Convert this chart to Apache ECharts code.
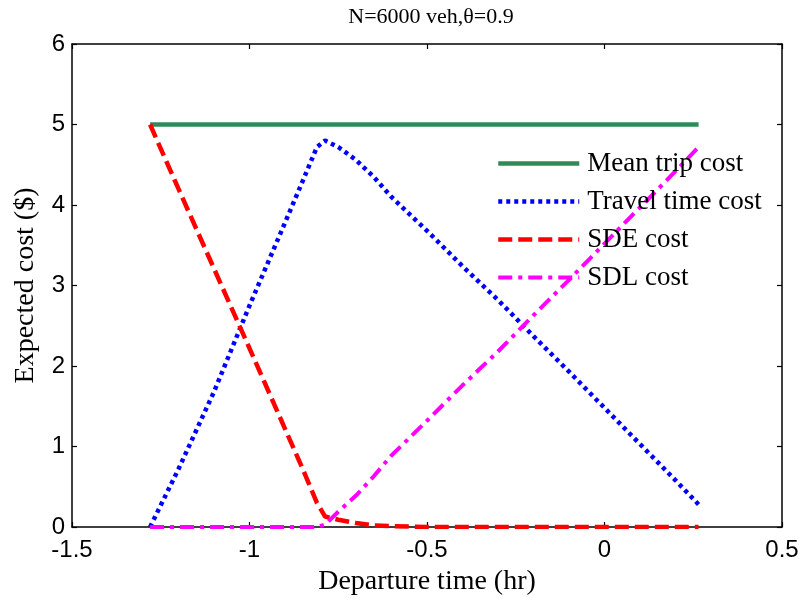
<!DOCTYPE html>
<html>
<head>
<meta charset="utf-8">
<script src="https://cdn.jsdelivr.net/npm/echarts@6/dist/echarts.min.js"></script>
<style>html,body{margin:0;padding:0;background:#fff;}#c{width:805px;height:603px;}</style>
</head>
<body>
<div id="c"></div>
<script>
const departure = [-1.28, -1.2, -1.1, -1.0, -0.9, -0.85, -0.81, -0.787, -0.75, -0.7, -0.65, -0.6, -0.5, -0.4, -0.3, -0.2, -0.1, 0, 0.1, 0.2, 0.265];
const meanTrip = [5, 5, 5, 5, 5, 5, 5, 5, 5, 5, 5, 5, 5, 5, 5, 5, 5, 5, 5, 5, 5];
const travelTime = [0, 0.72, 1.68, 2.75, 3.78, 4.3, 4.72, 4.8, 4.72, 4.56, 4.35, 4.1, 3.68, 3.24, 2.82, 2.37, 1.93, 1.48, 1.03, 0.58, 0.28];
const sde = [5, 4.2, 3.21, 2.22, 1.22, 0.72, 0.3, 0.13, 0.09, 0.05, 0.02, 0.01, 0, 0, 0, 0, 0, 0, 0, 0, 0];
const sdl = [0, 0, 0, 0, 0, 0, 0, 0.03, 0.19, 0.39, 0.63, 0.89, 1.32, 1.76, 2.18, 2.63, 3.07, 3.52, 3.97, 4.42, 4.72];
const seriesNames = ['Mean trip cost', 'Travel time cost', 'SDE cost', 'SDL cost'];
const xTicks = [-1.5, -1, -0.5, 0, 0.5];
const yTicks = [0, 1, 2, 3, 4, 5, 6];

const pairs = arr => departure.map((x, i) => [x, arr[i]]);
const serif = 'Liberation Serif';
const sans = 'Liberation Sans';

const chart = echarts.init(document.getElementById('c'), null, {renderer: 'canvas'});
const axisLine = {show: true, onZero: false, lineStyle: {color: '#000', width: 1.5}};
const tick = {show: true, inside: true, length: 5, lineStyle: {color: '#000', width: 1.2}};
chart.setOption({
  animation: false,
  backgroundColor: '#fff',
  title: {
    text: 'N=6000 veh,\u03b8=0.9',
    left: 426, top: 1, textAlign: 'center',
    textStyle: {fontFamily: serif, fontSize: 22, fontWeight: 'normal', color: '#000'}
  },
  grid: {left: 72, right: 23, top: 44, bottom: 76},
  legend: {
    orient: 'vertical',
    left: 496, top: 150, padding: 0,
    itemWidth: 81, itemHeight: 14, itemGap: 11,
    data: seriesNames,
    itemStyle: {opacity: 0},
    lineStyle: {width: 'inherit', type: 'inherit'},
    textStyle: {fontFamily: serif, fontSize: 27, color: '#000', padding: [0, 0, 0, 3]}
  },
  xAxis: [{
    type: 'value', min: xTicks[0], max: xTicks[xTicks.length - 1], interval: 0.5,
    name: 'Departure time (hr)', nameLocation: 'middle', nameGap: 41,
    nameTextStyle: {fontFamily: serif, fontSize: 28, color: '#000'},
    axisLine: axisLine, axisTick: tick, splitLine: {show: false},
    axisLabel: {fontFamily: sans, fontSize: 24, color: '#000', margin: 11}
  }, {
    type: 'value', position: 'top', min: xTicks[0], max: xTicks[xTicks.length - 1], interval: 0.5,
    axisLine: axisLine, axisTick: tick, splitLine: {show: false}, axisLabel: {show: false}
  }],
  yAxis: [{
    type: 'value', min: yTicks[0], max: yTicks[yTicks.length - 1], interval: 1,
    name: 'Expected cost ($)', nameLocation: 'middle', nameGap: 32, nameRotate: 90,
    nameTextStyle: {fontFamily: serif, fontSize: 28, color: '#000'},
    axisLine: axisLine, axisTick: tick, splitLine: {show: false},
    axisLabel: {fontFamily: sans, fontSize: 24, color: '#000', margin: 7}
  }, {
    type: 'value', position: 'right', min: yTicks[0], max: yTicks[yTicks.length - 1], interval: 1,
    axisLine: axisLine, axisTick: tick, splitLine: {show: false}, axisLabel: {show: false}
  }],
  series: [
    {name: seriesNames[0], type: 'line', data: pairs(meanTrip), symbol: 'none',
     lineStyle: {color: '#2E8B57', width: 4.5}, itemStyle: {color: '#2E8B57'}},
    {name: seriesNames[1], type: 'line', data: pairs(travelTime), symbol: 'none',
     lineStyle: {color: '#0000FF', width: 4.5, type: [4, 4], cap: 'butt'}, itemStyle: {color: '#0000FF'}},
    {name: seriesNames[2], type: 'line', data: pairs(sde), symbol: 'none',
     lineStyle: {color: '#FF0000', width: 4.5, type: [14, 6]}, itemStyle: {color: '#FF0000'}},
    {name: seriesNames[3], type: 'line', data: pairs(sdl), symbol: 'none',
     lineStyle: {color: '#FF00FF', width: 4, type: [14, 6, 4, 6]}, itemStyle: {color: '#FF00FF'}}
  ]
});
</script>
</body>
</html>
